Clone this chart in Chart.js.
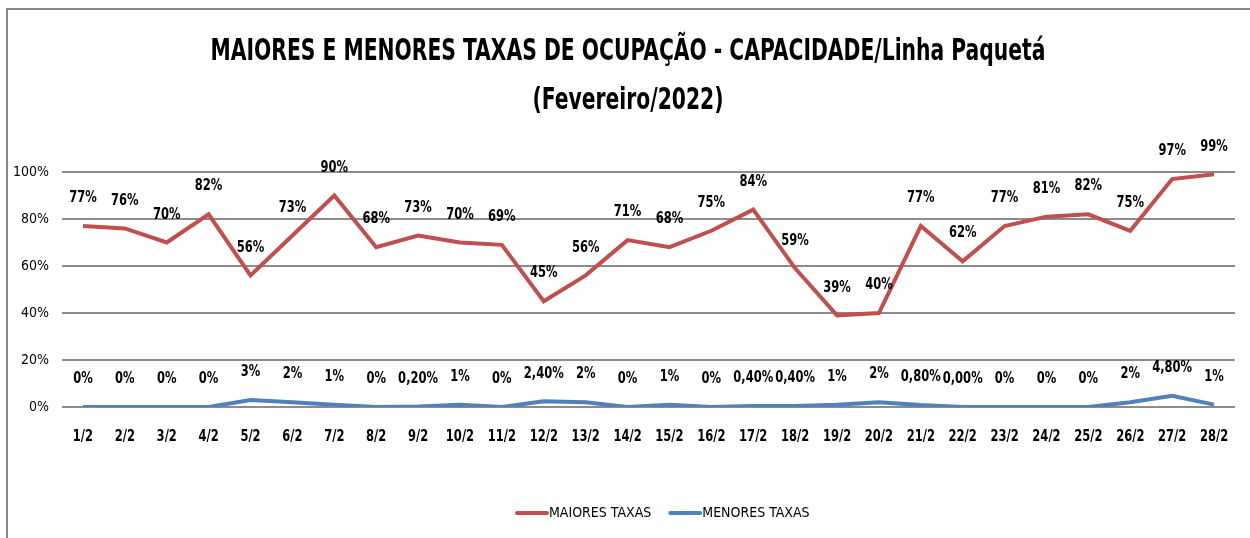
<!DOCTYPE html>
<html>
<head>
<meta charset="utf-8">
<script src="https://cdn.jsdelivr.net/npm/chart.js@4.4.1/dist/chart.umd.min.js"></script>
<style>
html,body{margin:0;padding:0;background:#fff;}
#wrap{width:1250px;height:538px;position:relative;}
</style>
</head>
<body>
<div id="wrap"><canvas id="c" width="1250" height="538"></canvas></div>
<script>
const categories = ['1/2','2/2','3/2','4/2','5/2','6/2','7/2','8/2','9/2','10/2','11/2','12/2','13/2','14/2','15/2','16/2','17/2','18/2','19/2','20/2','21/2','22/2','23/2','24/2','25/2','26/2','27/2','28/2'];
const maioresTaxas = [77,76,70,82,56,73,90,68,73,70,69,45,56,71,68,75,84,59,39,40,77,62,77,81,82,75,97,99];
const menoresTaxas = [0,0,0,0,3,2,1,0,0.2,1,0,2.4,2,0,1,0,0.4,0.4,1,2,0.8,0,0,0,0,2,4.8,1];
const menoresLabels = ['0%','0%','0%','0%','3%','2%','1%','0%','0,20%','1%','0%','2,40%','2%','0%','1%','0%','0,40%','0,40%','1%','2%','0,80%','0,00%','0%','0%','0%','2%','4,80%','1%'];
const maioresLabels = maioresTaxas.map(v => v + '%');
const yTicks = [0,20,40,60,80,100];
const titleLines = ['MAIORES E MENORES TAXAS DE OCUPAÇÃO - CAPACIDADE/Linha Paquetá','(Fevereiro/2022)'];

const FONT = "'Liberation Sans Narrow','Arial Narrow','DejaVu Sans Condensed',sans-serif";

function condText(ctx, text, x, y, sx) {
  ctx.save();
  ctx.translate(x, y);
  ctx.scale(sx, 1);
  ctx.fillText(text, 0, 0);
  ctx.restore();
}

const framePlugin = {
  id: 'frame',
  beforeDraw(chart) {
    const ctx = chart.ctx;
    ctx.save();
    ctx.strokeStyle = '#888888';
    ctx.lineWidth = 2;
    ctx.strokeRect(7, 9, 2000, 2000);
    ctx.restore();
  }
};

const titlePlugin = {
  id: 'condTitle',
  afterDraw(chart) {
    const ctx = chart.ctx;
    ctx.save();
    ctx.font = 'bold 31px ' + FONT;
    ctx.fillStyle = '#000';
    ctx.textAlign = 'center';
    ctx.textBaseline = 'middle';
    const w = ctx.measureText(titleLines[0]).width;
    const sx = Math.min(1, 835 / w);
    const ys = [52, 101];
    titleLines.forEach((t, i) => condText(ctx, t, 628, ys[i], sx));
    ctx.restore();
  }
};

const axisLabelPlugin = {
  id: 'axisLabels',
  afterDraw(chart) {
    const ctx = chart.ctx;
    const xs = chart.scales.x;
    ctx.save();
    ctx.fillStyle = '#000';
    ctx.textAlign = 'center';
    ctx.textBaseline = 'middle';
    ctx.font = 'bold 16px ' + FONT;
    categories.forEach((c, i) => condText(ctx, c, xs.getPixelForValue(i), 437, 0.8));
    ctx.restore();
  }
};

const legendPlugin = {
  id: 'customLegend',
  afterDraw(chart) {
    const ctx = chart.ctx;
    ctx.save();
    ctx.font = '14px ' + FONT;
    ctx.fillStyle = '#000';
    ctx.textBaseline = 'middle';
    ctx.textAlign = 'left';
    let x = 515;
    const y = 513;
    chart.data.datasets.forEach(ds => {
      ctx.strokeStyle = ds.borderColor;
      ctx.lineWidth = 4;
      ctx.lineCap = 'round';
      ctx.beginPath();
      ctx.moveTo(x + 2, y);
      ctx.lineTo(x + 32, y);
      ctx.stroke();
      ctx.fillText(ds.label, x + 34, y);
      x += 34 + ctx.measureText(ds.label).width + 17;
    });
    ctx.restore();
  }
};

const labelPlugin = {
  id: 'pointLabels',
  afterDatasetsDraw(chart) {
    const ctx = chart.ctx;
    ctx.save();
    ctx.font = 'bold 16px ' + FONT;
    ctx.fillStyle = '#000';
    ctx.textAlign = 'center';
    ctx.textBaseline = 'middle';
    const sets = [maioresLabels, menoresLabels];
    chart.data.datasets.forEach((ds, i) => {
      const meta = chart.getDatasetMeta(i);
      meta.data.forEach((pt, j) => condText(ctx, sets[i][j], pt.x, pt.y - 28, 0.8));
    });
    ctx.restore();
  }
};

new Chart(document.getElementById('c'), {
  type: 'line',
  data: {
    labels: categories,
    datasets: [
      {label: 'MAIORES TAXAS', data: maioresTaxas, borderColor: '#C0504D', backgroundColor: '#C0504D', borderWidth: 4, pointRadius: 0, tension: 0},
      {label: 'MENORES TAXAS', data: menoresTaxas, borderColor: '#4F81BD', backgroundColor: '#4F81BD', borderWidth: 4, pointRadius: 0, tension: 0}
    ]
  },
  options: {
    responsive: false,
    animation: false,
    layout: {padding: {left: 0, right: 15, top: 172, bottom: 71}},
    plugins: {
      title: {display: false},
      legend: {display: false},
      tooltip: {enabled: false}
    },
    scales: {
      x: {
        offset: true,
        grid: {display: false},
        border: {display: false},
        ticks: {display: false, autoSkip: false},
        afterFit(scale) { scale.height = 60; }
      },
      y: {
        min: 0, max: 100,
        afterBuildTicks(scale) { scale.ticks = yTicks.map(v => ({value: v})); },
        grid: {color: '#8c8c8c', lineWidth: 2, drawTicks: false},
        border: {display: false},
        ticks: {color: '#000', font: {family: FONT, size: 14}, padding: 13, callback: v => v + '%'},
        afterFit(scale) { scale.width = 62; }
      }
    }
  },
  plugins: [framePlugin, titlePlugin, axisLabelPlugin, legendPlugin, labelPlugin]
});
</script>
</body>
</html>
